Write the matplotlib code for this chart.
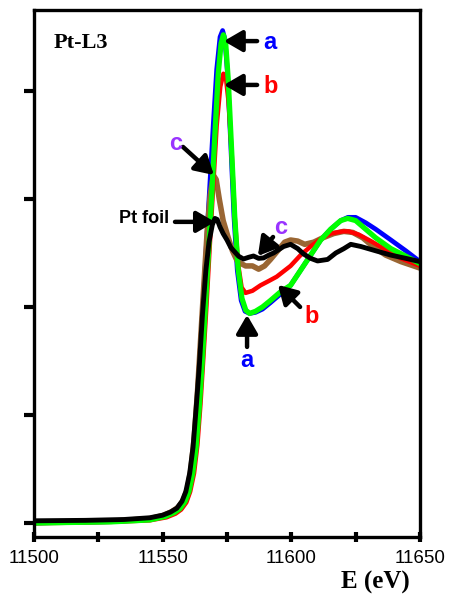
import matplotlib
matplotlib.use("Agg")
import matplotlib.pyplot as plt

# Pt L3-edge XANES, normalised absorption vs photon energy
energy_foil = [11500, 11520, 11535, 11545, 11550, 11553, 11555.5, 11557.5, 11559,
               11560.5, 11561.8, 11563, 11564.2, 11565.5, 11566.8, 11568, 11569.3,
               11570.3, 11571.2, 11572.3, 11573.5, 11575, 11576.5, 11578, 11579.5,
               11581.4, 11583.4, 11585.3, 11587.3, 11589.2, 11591.2, 11593.1, 11597,
               11599.7, 11602.5, 11604.8, 11607.5, 11610.2, 11614.1, 11617.3, 11620.4,
               11623.1, 11627, 11632.8, 11638.7, 11644.5, 11650]
mu_foil = [0.01, 0.012, 0.016, 0.024, 0.036, 0.05, 0.068, 0.1, 0.145,
           0.23, 0.35, 0.53, 0.72, 0.97, 1.17, 1.30, 1.38,
           1.41, 1.405, 1.37, 1.34, 1.31, 1.275, 1.255, 1.235,
           1.222, 1.23, 1.236, 1.225, 1.227, 1.24, 1.25, 1.28,
           1.29, 1.27, 1.245, 1.225, 1.213, 1.22, 1.25, 1.27,
           1.29, 1.28, 1.26, 1.24, 1.225, 1.21]

energy_green = [11500, 11530, 11545, 11551, 11554.5, 11556.7, 11558.7, 11560.2, 11561.7,
                11563, 11564.2, 11565.4, 11566.6, 11567.8, 11569, 11570.3, 11571.6,
                11572.7, 11573.6, 11574.5, 11575.5, 11576.7, 11578, 11579.3, 11580.8,
                11582.3, 11583.8, 11586.1, 11588.8, 11591.9, 11595.8, 11599.7, 11603.6,
                11607.5, 11611.4, 11615.3, 11619.2, 11621.9, 11625, 11628.9, 11632.8,
                11638.7, 11644.5, 11650]
mu_green = [0.0, 0.005, 0.014, 0.03, 0.048, 0.066, 0.1, 0.145, 0.23,
            0.35, 0.53, 0.75, 1.0, 1.25, 1.5, 1.8, 2.08,
            2.22, 2.26, 2.22, 2.05, 1.75, 1.42, 1.18, 1.04,
            0.985, 0.97, 0.98, 1.0, 1.03, 1.07, 1.1, 1.17,
            1.24, 1.31, 1.36, 1.40, 1.41, 1.40, 1.36, 1.32,
            1.27, 1.235, 1.20]

energy_blue = [11500, 11530, 11545, 11550.5, 11554, 11556, 11558, 11559.5, 11561,
               11562.3, 11563.5, 11564.7, 11566, 11567.2, 11568.4, 11569.7, 11571,
               11572.3, 11573.3, 11574.2, 11575.2, 11576.4, 11577.7, 11579, 11580.5,
               11582, 11583.8, 11586.1, 11588.8, 11591.9, 11595.8, 11599.7, 11603.6,
               11607.5, 11611.4, 11615.3, 11619.2, 11622, 11625, 11628.9, 11632.8,
               11638.7, 11644.5, 11650]
mu_blue = [0.0, 0.006, 0.016, 0.032, 0.052, 0.07, 0.105, 0.15, 0.25,
           0.38, 0.58, 0.82, 1.08, 1.33, 1.58, 1.85, 2.1,
           2.25, 2.28, 2.24, 2.08, 1.77, 1.42, 1.17, 1.03,
           0.98, 0.97, 0.975, 0.99, 1.02, 1.06, 1.1, 1.17,
           1.24, 1.31, 1.36, 1.40, 1.415, 1.415, 1.39, 1.36,
           1.31, 1.26, 1.21]

energy_b = [11500, 11530, 11545, 11551.5, 11555, 11557.2, 11559.2, 11560.7, 11562.2,
            11563.5, 11564.7, 11565.9, 11567.1, 11568.3, 11569.6, 11571, 11572.4,
            11573.6, 11574.6, 11575.6, 11576.8, 11578, 11579.3, 11580.7, 11582.2,
            11584.9, 11588, 11591.2, 11594.3, 11597, 11599.7, 11603.6, 11607.5,
            11611.4, 11615.3, 11620, 11622.3, 11626.2, 11630.9, 11636.7, 11642.6,
            11650]
mu_b = [0.0, 0.005, 0.012, 0.026, 0.043, 0.062, 0.095, 0.145, 0.23,
        0.36, 0.55, 0.78, 1.02, 1.28, 1.55, 1.84, 2.02,
        2.08, 2.06, 1.95, 1.72, 1.42, 1.2, 1.09, 1.065,
        1.075, 1.10, 1.12, 1.14, 1.165, 1.19, 1.24, 1.28,
        1.315, 1.34, 1.35, 1.35, 1.335, 1.305, 1.265, 1.225,
        1.19]

energy_c = [11500, 11530, 11545, 11550, 11553.5, 11556, 11558, 11559.7, 11561,
            11562.3, 11563.5, 11564.7, 11566, 11567.3, 11568.5, 11569.7, 11570.8,
            11572, 11573.5, 11575.5, 11577.1, 11579.1, 11582.2, 11584.9, 11587.3,
            11589.6, 11591.9, 11594.7, 11597.4, 11599.7, 11602.5, 11605.2, 11608.7,
            11612.2, 11616.5, 11620.4, 11623.9, 11627.8, 11631.7, 11636.7, 11642.6,
            11650]
mu_c = [0.0, 0.008, 0.02, 0.034, 0.052, 0.072, 0.105, 0.16, 0.25,
        0.4, 0.6, 0.84, 1.1, 1.35, 1.52, 1.61, 1.59,
        1.5, 1.4, 1.32, 1.26, 1.21, 1.19, 1.19, 1.175,
        1.19, 1.22, 1.26, 1.30, 1.31, 1.305, 1.29, 1.30,
        1.32, 1.34, 1.35, 1.345, 1.32, 1.28, 1.24, 1.21,
        1.18]

x_major = [11500, 11550, 11600, 11650]
x_minor = [11525, 11575, 11625]
y_ticks = [0.0, 0.5, 1.0, 1.5, 2.0]

BLUE = "#0000ff"
GREEN = "#00ff00"
RED = "#ff0000"
BROWN = "#9a6633"
PURPLE = "#9933ff"


def label_arrow(ax, text, tip, tail, color, size=17, xytext=None, **kw):
    ax.annotate("", xy=tip, xytext=tail,
                arrowprops=dict(arrowstyle="-|>,head_length=0.55,head_width=0.32",
                                color="black", lw=3.2, mutation_scale=20,
                                shrinkA=0, shrinkB=0))
    if xytext is not None:
        ax.text(*xytext, text, color=color, fontsize=size, fontweight="bold",
                family="Liberation Sans", va="center", **kw)


fig = plt.figure(figsize=(4.49, 6.02), dpi=100)
ax = fig.add_axes([0.0757, 0.108, 0.8597, 0.8754])

line_kw = dict(solid_joinstyle="round", solid_capstyle="round")
ax.plot(energy_blue, mu_blue, color=BLUE, lw=3.4, **line_kw)
ax.plot(energy_c, mu_c, color=BROWN, lw=4.0, **line_kw)
ax.plot(energy_b, mu_b, color=RED, lw=3.2, **line_kw)
ax.plot(energy_green, mu_green, color=GREEN, lw=3.8, **line_kw)
ax.plot(energy_foil, mu_foil, color="black", lw=3.5, **line_kw)

ax.set_xlim(11500, 11650)
ax.set_ylim(-0.065, 2.375)

ax.set_xticks(x_major)
ax.set_xticks(x_minor, minor=True)
ax.set_xticklabels([str(v) for v in x_major], family="Liberation Sans", fontsize=13.5)
ax.set_yticks(y_ticks)
ax.set_yticklabels([])
ax.tick_params(axis="x", which="both", direction="inout", length=7, width=3, pad=6)
ax.tick_params(axis="y", direction="out", length=7, width=3)
for side in ax.spines.values():
    side.set_linewidth(2.4)

ax.text(11507.5, 2.22, "Pt-L3", family="Liberation Serif", fontweight="bold",
        fontsize=16, va="center")
fig.text(0.913, 0.032, "E (eV)", family="Liberation Serif", fontweight="bold",
         fontsize=18, ha="right", va="center")

# upper labels
label_arrow(ax, "a", (11573.8, 2.231), (11586.7, 2.231), BLUE, xytext=(11589.0, 2.225))
label_arrow(ax, "b", (11573.8, 2.028), (11586.7, 2.028), RED, xytext=(11589.0, 2.02))
label_arrow(ax, "c", (11569.9, 1.611), (11557.9, 1.741), PURPLE,
            xytext=(11555.0, 1.755), ha="center")
label_arrow(ax, "Pt foil", (11570.3, 1.394), (11554.8, 1.394), "black", size=13,
            xytext=(11552.5, 1.41), ha="right")

# lower labels
label_arrow(ax, "c", (11587.0, 1.236), (11592.9, 1.324), PURPLE,
            xytext=(11596.0, 1.37), ha="center")
label_arrow(ax, "b", (11594.8, 1.102), (11603.4, 1.0), RED,
            xytext=(11608.0, 0.955), ha="center")
label_arrow(ax, "a", (11582.8, 0.963), (11582.8, 0.815), BLUE,
            xytext=(11582.8, 0.75), ha="center")

fig.savefig("out.png", dpi=100)
